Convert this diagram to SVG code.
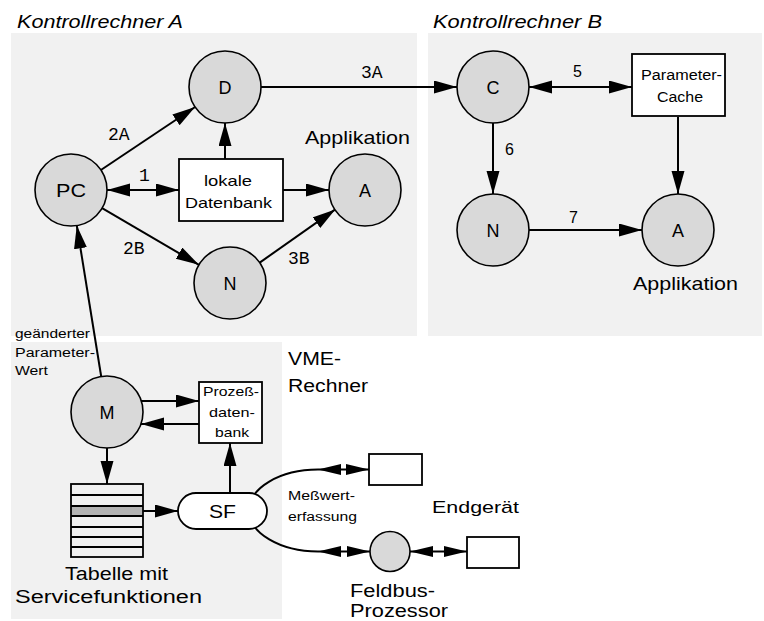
<svg xmlns="http://www.w3.org/2000/svg" width="764" height="621" viewBox="0 0 764 621">
<style>
.panel{fill:#f1f1f1;stroke:none}
.node{fill:#d9d9d9;stroke:#000;stroke-width:1.6}
.box{fill:#fff;stroke:#000;stroke-width:1.8}
.ln{fill:none;stroke:#000;stroke-width:2}
text{font-family:"Liberation Sans",Arial,sans-serif;fill:#000}
.mono{font-family:"Liberation Mono","Courier New",monospace;font-size:18px}
.lbl{font-size:18px;text-anchor:middle}
.it{font-style:italic;font-size:18px}
</style>
<defs>
<marker id="ah" markerUnits="userSpaceOnUse" markerWidth="24" markerHeight="14" refX="23" refY="6.5" orient="auto-start-reverse">
<path d="M0,0 L23,6.5 L0,13 z" fill="#000"/>
</marker>
<marker id="as" markerUnits="userSpaceOnUse" markerWidth="24" markerHeight="12" refX="23" refY="5.5" orient="auto-start-reverse">
<path d="M0,0 L23,5.5 L0,11 z" fill="#000"/>
</marker>
</defs>

<g id="panels">
<rect class="panel" x="11" y="33" width="406" height="303"/>
<rect class="panel" x="428" y="33" width="334" height="303"/>
<rect class="panel" x="11" y="342" width="271" height="277"/>
<text class="it" x="17" y="28" textLength="166" lengthAdjust="spacingAndGlyphs">Kontrollrechner A</text>
<text class="it" x="433" y="28" textLength="169" lengthAdjust="spacingAndGlyphs">Kontrollrechner B</text>
<text x="288" y="365" font-size="18" textLength="53" lengthAdjust="spacingAndGlyphs">VME-</text>
<text x="288" y="392" font-size="18" textLength="80" lengthAdjust="spacingAndGlyphs">Rechner</text>
</g>

<g id="connectors">
<line class="ln" x1="261" y1="87" x2="457" y2="87" marker-end="url(#ah)"/>
<line class="ln" x1="100.9" y1="170" x2="195.1" y2="107" marker-end="url(#ah)"/>
<line class="ln" x1="107" y1="190" x2="179" y2="190" marker-start="url(#ah)" marker-end="url(#ah)"/>
<line class="ln" x1="225" y1="159" x2="225" y2="123" marker-end="url(#ah)"/>
<line class="ln" x1="283" y1="190" x2="329" y2="190" marker-end="url(#ah)"/>
<line class="ln" x1="102.1" y1="208.2" x2="198.9" y2="264.8" marker-end="url(#ah)"/>
<line class="ln" x1="259.7" y1="262.6" x2="335.3" y2="209.4" marker-end="url(#ah)"/>
<line class="ln" x1="101.2" y1="376.5" x2="76.8" y2="225.5" marker-end="url(#ah)"/>
<line class="ln" x1="529" y1="87" x2="632" y2="87" marker-start="url(#ah)" marker-end="url(#ah)"/>
<line class="ln" x1="493" y1="123" x2="493" y2="194" marker-end="url(#ah)"/>
<line class="ln" x1="529" y1="230" x2="642" y2="230" marker-end="url(#ah)"/>
<line class="ln" x1="678" y1="117" x2="678" y2="194" marker-end="url(#ah)"/>
<line class="ln" x1="141" y1="401" x2="199" y2="401" marker-end="url(#ah)"/>
<line class="ln" x1="199" y1="424" x2="141" y2="424" marker-end="url(#ah)"/>
<line class="ln" x1="107" y1="448" x2="107" y2="484" marker-end="url(#ah)"/>
<line class="ln" x1="143" y1="511" x2="178" y2="511" marker-end="url(#ah)"/>
<line class="ln" x1="230" y1="493" x2="230" y2="443" marker-end="url(#ah)"/>
<path class="ln" d="M318,469.5 A69,41 0 0 0 318,551.5"/>
<line class="ln" x1="318" y1="469.5" x2="369" y2="469.5" marker-start="url(#as)" marker-end="url(#as)"/>
<line class="ln" x1="318" y1="551.5" x2="370" y2="551.5" marker-start="url(#as)" marker-end="url(#as)"/>
<line class="ln" x1="410" y1="551.5" x2="467" y2="551.5" marker-start="url(#as)" marker-end="url(#as)"/>
<text class="mono" x="361" y="78">3A</text>
<text class="mono" x="108" y="140">2A</text>
<text class="mono" x="139" y="181">1</text>
<text class="mono" x="123" y="254">2B</text>
<text class="mono" x="288" y="264">3B</text>
<text x="573" y="77" font-size="16">5</text>
<text x="505" y="155" font-size="16">6</text>
<text x="569" y="223" font-size="16">7</text>
<text x="15" y="338" font-size="12" textLength="75" lengthAdjust="spacingAndGlyphs">geänderter</text>
<text x="15" y="357" font-size="12" textLength="80" lengthAdjust="spacingAndGlyphs">Parameter-</text>
<text x="15" y="375" font-size="12" textLength="33" lengthAdjust="spacingAndGlyphs">Wert</text>
<text x="288" y="500" font-size="12" textLength="67" lengthAdjust="spacingAndGlyphs">Meßwert-</text>
<text x="288" y="521" font-size="12" textLength="69" lengthAdjust="spacingAndGlyphs">erfassung</text>
</g>

<g id="node-D">
<circle class="node" cx="225" cy="87" r="36"/>
<text class="lbl" x="225" y="93.5">D</text>
</g>
<g id="node-PC">
<circle class="node" cx="71" cy="190" r="36"/>
<text class="lbl" x="71" y="196.5" textLength="30" lengthAdjust="spacingAndGlyphs">PC</text>
</g>
<g id="node-lokaleDB">
<rect class="box" x="179" y="159" width="104" height="62"/>
<text x="204" y="186" font-size="15" textLength="48" lengthAdjust="spacingAndGlyphs">lokale</text>
<text x="185" y="208" font-size="15" textLength="87" lengthAdjust="spacingAndGlyphs">Datenbank</text>
</g>
<g id="node-A1">
<circle class="node" cx="365" cy="190" r="36"/>
<text class="lbl" x="365" y="196.5">A</text>
<text x="305" y="144" font-size="19" textLength="105" lengthAdjust="spacingAndGlyphs">Applikation</text>
</g>
<g id="node-N1">
<circle class="node" cx="230" cy="283" r="36"/>
<text class="lbl" x="230" y="289.5">N</text>
</g>
<g id="node-C">
<circle class="node" cx="493" cy="87" r="36"/>
<text class="lbl" x="493" y="93.5">C</text>
</g>
<g id="node-Cache">
<rect class="box" x="632" y="54" width="93" height="62"/>
<text x="641" y="80" font-size="14" textLength="81" lengthAdjust="spacingAndGlyphs">Parameter-</text>
<text x="657" y="102" font-size="14" textLength="46" lengthAdjust="spacingAndGlyphs">Cache</text>
</g>
<g id="node-N2">
<circle class="node" cx="493" cy="230" r="36"/>
<text class="lbl" x="493" y="236.5">N</text>
</g>
<g id="node-A2">
<circle class="node" cx="678" cy="230" r="36"/>
<text class="lbl" x="678" y="236.5">A</text>
<text x="633" y="290" font-size="19" textLength="105" lengthAdjust="spacingAndGlyphs">Applikation</text>
</g>
<g id="node-M">
<circle class="node" cx="107" cy="412" r="36"/>
<text class="lbl" x="107" y="418.5">M</text>
</g>
<g id="node-ProzessDB">
<rect class="box" x="199" y="382" width="63" height="61"/>
<text x="203" y="396" font-size="13" textLength="56" lengthAdjust="spacingAndGlyphs">Prozeß-</text>
<text x="209" y="417" font-size="13" textLength="46" lengthAdjust="spacingAndGlyphs">daten-</text>
<text x="215" y="437" font-size="13" textLength="34" lengthAdjust="spacingAndGlyphs">bank</text>
</g>
<g id="node-Tabelle">
<rect x="71" y="506" width="72" height="10" fill="#b3b3b3"/>
<rect class="box" x="71" y="484" width="72" height="73" style="fill:none"/>
<path class="ln" d="M71,495 H143 M71,506 H143 M71,516 H143 M71,527 H143 M71,537 H143 M71,547 H143"/>
<text x="65" y="580" font-size="18" textLength="103" lengthAdjust="spacingAndGlyphs">Tabelle mit</text>
<text x="15" y="603" font-size="18" textLength="187" lengthAdjust="spacingAndGlyphs">Servicefunktionen</text>
</g>
<g id="node-SF">
<rect class="box" x="178" y="493" width="89" height="36" rx="18" ry="18"/>
<text class="lbl" x="222.5" y="518" textLength="27" lengthAdjust="spacingAndGlyphs">SF</text>
</g>
<g id="node-Endgeraet1">
<rect class="box" x="369" y="454" width="53" height="31"/>
</g>
<g id="node-Feldbus">
<circle class="node" cx="390" cy="551.5" r="20"/>
<text x="350" y="597" font-size="18" textLength="85" lengthAdjust="spacingAndGlyphs">Feldbus-</text>
<text x="350" y="617" font-size="18" textLength="98" lengthAdjust="spacingAndGlyphs">Prozessor</text>
</g>
<g id="node-Endgeraet2">
<rect class="box" x="467" y="537" width="52" height="31"/>
<text x="432" y="513" font-size="17" textLength="87" lengthAdjust="spacingAndGlyphs">Endgerät</text>
</g>
</svg>
